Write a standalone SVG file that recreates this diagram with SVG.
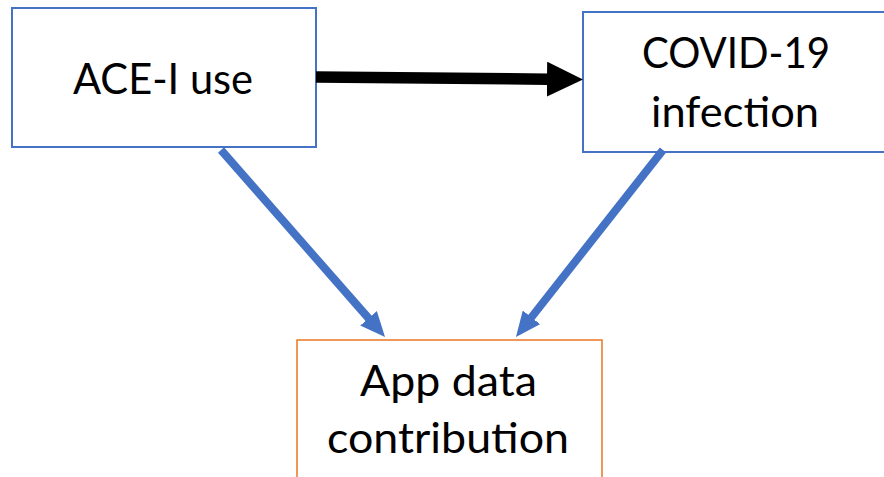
<svg xmlns="http://www.w3.org/2000/svg" width="884" height="477" viewBox="0 0 884 477">
  <style>
    .box { fill: #ffffff; stroke-width: 2; }
    .blue { stroke: #4472C4; }
    .orange { stroke: #ED7D31; stroke-width: 1.6; }
    .label { font-family: "Lato", "Open Sans", "Liberation Sans", sans-serif; font-size: 42px; fill: #000000; text-anchor: middle; }
    .edge { fill: none; stroke-linecap: butt; }
  </style>
  <defs>
    <marker id="head-black" markerUnits="userSpaceOnUse" markerWidth="36" markerHeight="35" viewBox="0 0 36 35" refX="1" refY="17.5" orient="auto">
      <path d="M0,0 L36,17.5 L0,35 Z" fill="#000000"/>
    </marker>
    <marker id="head-blue" markerUnits="userSpaceOnUse" markerWidth="25" markerHeight="22" viewBox="0 0 25 22" refX="1" refY="11" orient="auto">
      <path d="M0,0 L25,11 L0,22 Z" fill="#4472C4"/>
    </marker>
  </defs>
  <rect width="884" height="477" fill="#ffffff"/>

  <g id="node-ace">
    <rect class="box blue" x="12" y="8" width="304" height="139"/>
    <text class="label" x="163" y="94" textLength="180" lengthAdjust="spacingAndGlyphs">ACE-I use</text>
  </g>

  <g id="node-covid">
    <rect class="box blue" x="583" y="12" width="310" height="140"/>
    <text class="label" x="736" y="68" textLength="188" lengthAdjust="spacingAndGlyphs">COVID-19</text>
    <text class="label" x="735" y="127" textLength="168" lengthAdjust="spacingAndGlyphs">infection</text>
  </g>

  <g id="node-app">
    <rect class="box orange" x="297" y="340" width="305" height="150"/>
    <text class="label" x="448.5" y="396" textLength="177" lengthAdjust="spacingAndGlyphs">App data</text>
    <text class="label" x="448" y="453" textLength="242" lengthAdjust="spacingAndGlyphs">contribution</text>
  </g>

  <g id="connectors">
    <line class="edge" x1="316" y1="77" x2="548" y2="79.2" stroke="#000000" stroke-width="11.5" marker-end="url(#head-black)"/>
    <line class="edge" x1="221" y1="150" x2="369.2" y2="319" stroke="#4472C4" stroke-width="8" marker-end="url(#head-blue)"/>
    <line class="edge" x1="663" y1="150" x2="530.8" y2="318.1" stroke="#4472C4" stroke-width="8" marker-end="url(#head-blue)"/>
  </g>
</svg>
